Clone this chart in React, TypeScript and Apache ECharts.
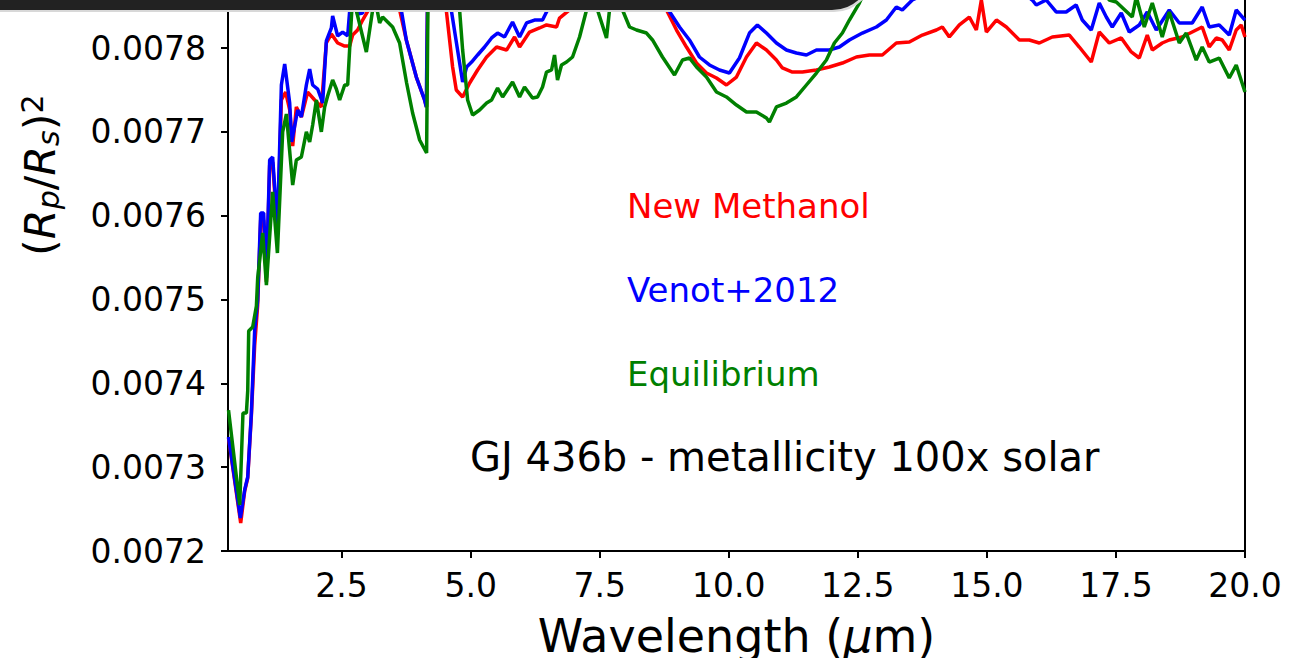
import React, { useEffect, useRef } from "react";
import * as echarts from "echarts";

// Tick values
const xTicks = [2.5, 5.0, 7.5, 10.0, 12.5, 15.0, 17.5, 20.0];
const yTicks = [0.0072, 0.0073, 0.0074, 0.0075, 0.0076, 0.0077, 0.0078];
const xMin = 0.3;
const xMax = 20;
const yMin = 0.0072;
const yMax = 0.0078573;

const seriesNames = ["New Methanol", "Venot+2012", "Equilibrium"];
const seriesColors = ["#ff0000", "#0000ff", "#008000"];
const titleText = "GJ 436b - metallicity 100x solar";

// [wavelength (um), (Rp/Rs)^2]
const newMethanol: [number, number][] = [
  [0.31,0.007335],[0.546,0.0072334],[0.623,0.0072716],[0.682,0.0072871],[0.753,0.0073622],[0.817,0.0074457],[0.875,0.0074934],[0.933,0.0075948],[0.991,0.0075948],[1.044,0.0075209],[1.107,0.0076604],[1.165,0.007664],[1.257,0.007577],[1.334,0.007738],[1.417,0.0077475],[1.495,0.0077261],[1.553,0.0076831],[1.624,0.0077297],[1.721,0.0077177],[1.843,0.0077475],[1.979,0.007738],[2.108,0.0077297],[2.205,0.007806],[2.302,0.0078167],[2.424,0.007806],[2.56,0.0078024],[2.657,0.0078024],[2.714,0.0078155],[2.811,0.0078215],[2.908,0.0078334],[3.044,0.0078478],[3.2,0.00787],[3.55,0.007875],[3.624,0.0078454],[3.754,0.0078096],[3.948,0.0077654],[4.108,0.007738],[4.147,0.0077297],[4.17,0.00789],[4.45,0.00789],[4.528,0.0078454],[4.651,0.0077774],[4.722,0.0077499],[4.845,0.0077416],[4.981,0.0077583],[5.135,0.0077738],[5.309,0.0077893],[5.503,0.0078012],[5.696,0.0077976],[5.851,0.0078132],[5.948,0.0078012],[6.141,0.0078191],[6.335,0.0078239],[6.47,0.0078275],[6.664,0.0078251],[6.722,0.0078358],[6.916,0.0078454],[6.974,0.0078573],[7.5,0.00789],[8.3,0.00789],[8.794,0.0078454],[8.988,0.0078215],[9.181,0.0078012],[9.375,0.0077821],[9.568,0.0077702],[9.762,0.0077642],[9.955,0.0077559],[10.149,0.0077654],[10.343,0.0077893],[10.536,0.007806],[10.73,0.0077976],[10.923,0.0077857],[11.039,0.0077762],[11.233,0.0077714],[11.427,0.0077714],[11.698,0.0077738],[11.949,0.0077774],[12.201,0.0077821],[12.472,0.0077893],[12.724,0.0077917],[12.975,0.0077917],[13.246,0.007806],[13.498,0.0078072],[13.75,0.0078155],[14.021,0.0078215],[14.137,0.0078251],[14.273,0.0078132],[14.467,0.0078275],[14.66,0.007837],[14.796,0.0078215],[14.893,0.0078573],[14.99,0.0078191],[15.184,0.0078334],[15.377,0.0078251],[15.629,0.0078096],[15.822,0.0078096],[16.016,0.007806],[16.267,0.0078132],[16.597,0.0078155],[16.79,0.0078012],[17.022,0.0077833],[17.177,0.0078191],[17.371,0.007806],[17.603,0.007812],[17.797,0.0077953],[17.952,0.0077881],[18.107,0.0078155],[18.204,0.0077976],[18.397,0.007806],[18.533,0.0078096],[18.784,0.0078132],[19.171,0.0078251],[19.307,0.0078012],[19.443,0.007812],[19.559,0.0078096],[19.695,0.0077976],[19.83,0.0078215],[19.927,0.0078275],[20.0,0.0078132]
];

const venot2012: [number, number][] = [
  [0.31,0.007336],[0.54,0.0072394],[0.623,0.0072728],[0.682,0.0072883],[0.753,0.0073646],[0.817,0.0074636],[0.875,0.0074994],[0.933,0.0076032],[0.991,0.0076032],[1.044,0.0075257],[1.107,0.0076664],[1.165,0.00767],[1.257,0.0075853],[1.334,0.0077559],[1.398,0.007781],[1.495,0.0077344],[1.533,0.0076879],[1.65,0.0077261],[1.721,0.0077177],[1.818,0.0077559],[1.882,0.007775],[1.94,0.0077559],[2.037,0.0077511],[2.134,0.0077344],[2.205,0.0078084],[2.302,0.0078239],[2.327,0.0078382],[2.424,0.0078144],[2.521,0.0078191],[2.618,0.0078144],[2.657,0.0078442],[2.7,0.007865],[2.811,0.0078406],[2.908,0.0078418],[2.98,0.007865],[3.3,0.00788],[3.657,0.0078454],[3.754,0.0078096],[3.948,0.0077654],[4.108,0.007738],[4.141,0.0077297],[4.17,0.00789],[4.5,0.00789],[4.625,0.0078454],[4.747,0.0077976],[4.845,0.0077595],[4.922,0.0077774],[5.019,0.0077833],[5.135,0.0077917],[5.27,0.0078012],[5.406,0.007812],[5.522,0.0078179],[5.657,0.0078132],[5.812,0.0078311],[5.948,0.0078132],[6.083,0.0078299],[6.238,0.0078334],[6.393,0.0078334],[6.489,0.0078454],[6.586,0.007849],[6.722,0.0078454],[6.858,0.0078573],[7.5,0.00789],[8.3,0.00789],[8.794,0.007849],[9.046,0.0078251],[9.239,0.0078096],[9.432,0.0077893],[9.626,0.0077798],[9.82,0.0077738],[10.013,0.0077702],[10.207,0.0077881],[10.401,0.0078179],[10.555,0.0078275],[10.73,0.0078179],[10.923,0.007806],[11.117,0.0077976],[11.31,0.0077941],[11.504,0.0077917],[11.698,0.0077976],[11.949,0.0077976],[12.143,0.0078012],[12.337,0.0078096],[12.588,0.0078179],[12.859,0.0078251],[13.053,0.0078334],[13.246,0.007849],[13.362,0.0078454],[13.556,0.0078573],[14.5,0.007885],[15.5,0.007875],[15.879,0.0078573],[15.956,0.0078513],[16.149,0.0078573],[16.342,0.007843],[16.536,0.007843],[16.729,0.0078513],[16.848,0.0078334],[17.022,0.0078215],[17.177,0.0078537],[17.313,0.007837],[17.429,0.0078251],[17.603,0.0078418],[17.758,0.0078191],[17.952,0.0078275],[18.107,0.007843],[18.281,0.0078215],[18.533,0.0078454],[18.727,0.0078299],[18.978,0.0078299],[19.171,0.007849],[19.307,0.0078251],[19.501,0.0078275],[19.695,0.0078155],[19.83,0.0078454],[20.0,0.0078334]
];

const equilibrium: [number, number][] = [
  [0.31,0.007368],[0.527,0.0072549],[0.59,0.0073646],[0.656,0.0073646],[0.682,0.0073909],[0.701,0.0074624],[0.778,0.0074672],[0.85,0.0074923],[0.875,0.0075257],[0.972,0.0075794],[1.044,0.0075173],[1.165,0.0076283],[1.257,0.0075555],[1.359,0.0077],[1.431,0.0077213],[1.553,0.0076366],[1.624,0.0076664],[1.721,0.00767],[1.818,0.0077],[1.882,0.0076879],[1.94,0.0077082],[2.012,0.007738],[2.108,0.0077],[2.172,0.0077297],[2.23,0.0077428],[2.327,0.0077619],[2.399,0.0077511],[2.463,0.007738],[2.56,0.0077559],[2.618,0.0077559],[2.714,0.007863],[2.98,0.0077953],[3.14,0.007861],[3.237,0.0078299],[3.295,0.007837],[3.392,0.0078311],[3.489,0.0078251],[3.624,0.007806],[3.76,0.0077583],[3.876,0.0077225],[4.012,0.0076903],[4.147,0.0076748],[4.18,0.0079],[4.7,0.0079],[4.786,0.0078454],[4.845,0.0077976],[4.942,0.007738],[5.038,0.0077201],[5.173,0.0077261],[5.309,0.0077344],[5.406,0.007738],[5.522,0.0077523],[5.619,0.0077416],[5.812,0.0077595],[5.948,0.0077416],[6.044,0.0077535],[6.199,0.0077404],[6.296,0.0077416],[6.393,0.0077535],[6.47,0.0077714],[6.567,0.0077738],[6.625,0.0077917],[6.683,0.0077619],[6.76,0.0077798],[6.858,0.0077833],[6.974,0.0077893],[7.11,0.0078132],[7.245,0.0078454],[7.35,0.007865],[7.458,0.0078454],[7.632,0.007812],[7.69,0.0078454],[7.8,0.007862],[7.942,0.0078454],[8.078,0.0078251],[8.213,0.0078215],[8.407,0.0078179],[8.523,0.0078096],[8.716,0.0077893],[8.949,0.0077678],[9.104,0.0077857],[9.239,0.0077881],[9.375,0.0077774],[9.568,0.0077654],[9.762,0.0077476],[9.955,0.0077416],[10.149,0.007732],[10.343,0.0077237],[10.536,0.0077237],[10.73,0.0077165],[10.788,0.0077118],[10.923,0.0077297],[11.117,0.0077344],[11.31,0.0077416],[11.504,0.0077559],[11.698,0.0077702],[11.891,0.0077857],[12.046,0.007806],[12.201,0.0078179],[12.337,0.0078334],[12.53,0.0078537],[12.8,0.00789],[14.0,0.00793],[16.0,0.00792],[17.2,0.007875],[17.371,0.0078573],[17.507,0.0078549],[17.816,0.007837],[17.894,0.007861],[18.049,0.0078251],[18.204,0.0078537],[18.397,0.0078132],[18.533,0.007843],[18.727,0.007806],[18.862,0.0078179],[19.055,0.0077857],[19.171,0.0078012],[19.307,0.0077833],[19.501,0.0077881],[19.695,0.0077643],[19.83,0.0077798],[20.0,0.0077475]
];

const FONT = "DejaVu Sans";

export default function App() {
  const ref = useRef<HTMLDivElement>(null);

  useEffect(() => {
    if (!ref.current) return;
    const chart = echarts.init(ref.current, undefined, { renderer: "svg" });

    const allData = [newMethanol, venot2012, equilibrium];

    // y-axis title pieces: [text, fontSize, italic, localYOffset]
    const yTitleParts: [string, number, boolean, number][] = [
      ["(", 43, false, 0],
      ["R", 43, true, 0],
      ["p", 30, true, 8],
      ["/", 43, false, 0],
      ["R", 43, true, 0],
      ["s", 30, true, 8],
      [")", 43, false, 0],
      ["2", 30, false, -8],
    ];
    const charW: Record<string, number> = { "(": 0.39, ")": 0.39, R: 0.695, p: 0.635, "/": 0.337, s: 0.521, "2": 0.636 };
    let cx = 0;
    const yTitleChildren = yTitleParts.map(([t, fs, it, dy]) => {
      const el = {
        type: "text",
        x: cx,
        y: dy,
        style: {
          text: t,
          fontSize: fs,
          fontFamily: FONT,
          fontStyle: it ? "italic" : "normal",
          fill: "#000",
          align: "left",
          verticalAlign: "middle",
        },
      };
      cx += charW[t] * fs;
      return el;
    });

    const option: any = {
      animation: false,
      backgroundColor: "#ffffff",
      grid: { left: 228, right: 53, top: 0, bottom: 107, containLabel: false },
      xAxis: {
        type: "value",
        min: xMin,
        max: xMax,
        axisLine: { show: true, onZero: false, lineStyle: { color: "#000", width: 2 } },
        axisTick: { show: true, customValues: xTicks, length: 7, lineStyle: { color: "#000", width: 2 } },
        axisLabel: {
          customValues: xTicks,
          formatter: (v: number) => v.toFixed(1),
          fontSize: 33,
          fontFamily: FONT,
          color: "#000",
          margin: 18,
        },
        splitLine: { show: false },
      },
      yAxis: [
        {
          type: "value",
          min: yMin,
          max: yMax,
          axisLine: { show: true, onZero: false, lineStyle: { color: "#000", width: 2 } },
          axisTick: { show: true, customValues: yTicks, length: 7, lineStyle: { color: "#000", width: 2 } },
          axisLabel: {
            customValues: yTicks,
            formatter: (v: number) => v.toFixed(4),
            fontSize: 33,
            fontFamily: FONT,
            color: "#000",
            margin: 22,
          },
          splitLine: { show: false },
        },
        {
          type: "value",
          position: "right",
          min: yMin,
          max: yMax,
          axisLine: { show: true, onZero: false, lineStyle: { color: "#000", width: 2 } },
          axisTick: { show: false },
          axisLabel: { show: false },
          splitLine: { show: false },
        },
      ],
      series: allData.map((d, i) => ({
        name: seriesNames[i],
        type: "line",
        data: d,
        showSymbol: false,
        symbol: "none",
        lineStyle: { color: seriesColors[i], width: 3.5 },
        itemStyle: { color: seriesColors[i] },
        z: 2 + i,
        clip: true,
      })),
      graphic: [
        // annotations
        ...seriesNames.map((n, i) => ({
          type: "text",
          x: 627,
          y: 206 + i * 84,
          style: { text: n, fontSize: 34, fontFamily: FONT, fill: seriesColors[i], align: "left", verticalAlign: "middle" },
          z: 50,
        })),
        {
          type: "text",
          x: 470,
          y: 457,
          style: { text: titleText, fontSize: 40, fontFamily: FONT, fill: "#000", align: "left", verticalAlign: "middle" },
          z: 50,
        },
        // x-axis title
        {
          type: "text",
          x: 736.5,
          y: 636,
          style: {
            text: "{n|Wavelength (}{m|μ}{n|m)}",
            align: "center",
            verticalAlign: "middle",
            rich: {
              n: { fontSize: 46, fontFamily: FONT, fill: "#000" },
              m: { fontSize: 46, fontFamily: FONT, fontStyle: "italic", fill: "#000" },
            },
          },
          z: 50,
        },
        // y-axis title
        {
          type: "group",
          x: 40,
          y: 256,
          rotation: Math.PI / 2,
          children: yTitleChildren,
          z: 50,
        },
        // top dark bar (overlay)
        {
          type: "rect",
          shape: { x: 0, y: -28, width: 874, height: 40, r: [0, 0, 40, 0] },
          style: { fill: "#d8d8d8" },
          z: 99,
        },
        {
          type: "rect",
          shape: { x: 0, y: -30, width: 872, height: 40, r: [0, 0, 40, 0] },
          style: { fill: "#222222" },
          z: 100,
        },
      ],
    };

    chart.setOption(option);
    return () => chart.dispose();
  }, []);

  return (
    <div
      ref={ref}
      style={{ position: "fixed", left: 0, top: 0, width: 1298, height: 658, background: "#fff" }}
    />
  );
}
